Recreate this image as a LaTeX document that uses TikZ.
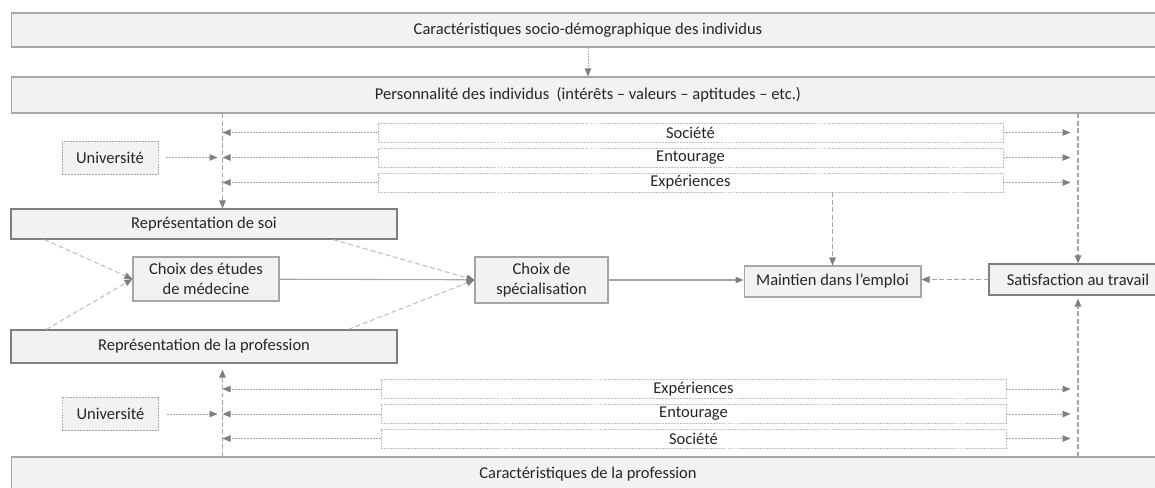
\documentclass[tikz,border=0pt]{standalone}
\usepackage{fontspec}
\setmainfont{Carlito}
\usetikzlibrary{arrows.meta,calc}
\definecolor{boxfill}{HTML}{F2F2F2}
\definecolor{midgray}{HTML}{A6A6A6}
\definecolor{edgegray}{HTML}{7F7F7F}
\definecolor{ctxgray}{HTML}{BFBFBF}
\definecolor{txtgray}{HTML}{262626}
\begin{document}
\begin{tikzpicture}[x=0.02cm, y=-0.02cm, font=\fontsize{9.4}{11.4}\selectfont, text=txtgray,
  band/.style={draw=midgray, fill=boxfill, line width=0.6pt, minimum width=23.08cm, minimum height=0.68cm},
  repbox/.style={draw=edgegray, fill=boxfill, line width=0.7pt, minimum width=7.72cm},
  choixbox/.style={draw=midgray, fill=boxfill, line width=0.6pt, align=center, inner sep=0pt},
  ctxbox/.style={draw=ctxgray, fill=white, line width=0.5pt, dash pattern=on 1.1pt off 0.6pt, minimum width=12.5cm, minimum height=0.38cm, inner sep=0pt},
  univbox/.style={draw=midgray, fill=boxfill, line width=0.5pt, dash pattern=on 1.1pt off 0.6pt, minimum width=1.92cm, minimum height=0.66cm},
  tipa/.style={-{Triangle[length=1.6mm,width=1.3mm,color=edgegray]}},
  dashlink/.style={tipa, draw=midgray, line width=0.6pt, dash pattern=on 2.8pt off 1.4pt},
  dotlink/.style={tipa, draw=midgray, line width=0.5pt, dash pattern=on 1.1pt off 0.6pt},
  difflink/.style={tipa, draw=ctxgray, line width=0.6pt, dash pattern=on 2.8pt off 1.6pt},
  solidlink/.style={tipa, draw=midgray, line width=0.6pt}]
\useasboundingbox (0,0) rectangle (1155,487);
\coordinate (lt) at (222.5,0);
\coordinate (rt) at (1078,0);

\node[band] (socdem) at (588,30) {Caractéristiques socio-démographique des individus};
\node[band, minimum height=0.72cm] (pers) at (588,95) {Personnalité des individus\ \ (intérêts – valeurs – aptitudes – etc.)};
\node[band] (carprof) at (588,474) {Caractéristiques de la profession};

\node[univbox] (univa) at (110,157.5) {Université};
\node[univbox] (univb) at (110.5,414) {Université};

\foreach \name/\lab/\x/\y in {soca/Société/690.5/132.5, enta/Entourage/690.5/157.5, expa/Expériences/690.5/182.5,
    expb/Expériences/693.5/389, entb/Entourage/693.5/414, socb/Société/693.5/438.5} {
  \node[ctxbox] (\name) at (\x,\y) {\lab};
  \draw[dotlink] (\name.west) -- (\name.west -| lt);
  \draw[dotlink, shorten >=0.15cm] (\name.east) -- (\name.east -| rt);
}

\node[repbox, minimum height=0.6cm] (soi) at (204,224) {Représentation de soi};
\node[repbox, minimum height=0.66cm] (prof) at (204,346.5) {Représentation de la profession};
\node[choixbox, minimum width=2.92cm, minimum height=0.88cm] (etudes) at (206,279) {Choix des études\\de médecine};
\node[choixbox, minimum width=2.66cm, minimum height=0.92cm] (spec) at (541.5,280) {Choix de\\spécialisation};
\node[choixbox, minimum width=3.54cm, minimum height=0.62cm] (maint) at (832.5,281.5) {Maintien dans l’emploi};
\node[repbox, minimum width=3.56cm, minimum height=0.62cm] (satis) at (1078,279.5) {Satisfaction au travail};

\draw[dotlink] (socdem) -- (pers);
\draw[dashlink] (pers.south -| lt) -- (soi.north -| lt);
\draw[dashlink, shorten >=0.12cm] (carprof.north -| lt) -- (prof.south -| lt);
\draw[dashlink] (pers.south -| rt) -- (satis.north);
\draw[dashlink, shorten >=0.06cm] (carprof.north -| rt) -- (satis.south);
\draw[dashlink] (expa.south -| maint.north) -- (maint.north);
\draw[dashlink] (satis.west) -- (satis.west -| maint.east);
\draw[dotlink, shorten <=0.16cm, shorten >=0.1cm] (univa) -- (univa -| lt);
\draw[dotlink, shorten <=0.16cm, shorten >=0.1cm] (univb) -- (univb -| lt);

\draw[difflink] ($(soi.south west)!0.088!(soi.south east)$) -- (etudes.west);
\draw[difflink] ($(soi.south west)!0.834!(soi.south east)$) -- (spec.west);
\draw[difflink] ($(prof.north west)!0.093!(prof.north east)$) -- (etudes.west);
\draw[difflink] ($(prof.north west)!0.873!(prof.north east)$) -- (spec.west);
\draw[solidlink] (etudes) -- (spec);
\draw[solidlink] (spec.east) -- (spec.east -| maint.west);
\end{tikzpicture}
\end{document}
